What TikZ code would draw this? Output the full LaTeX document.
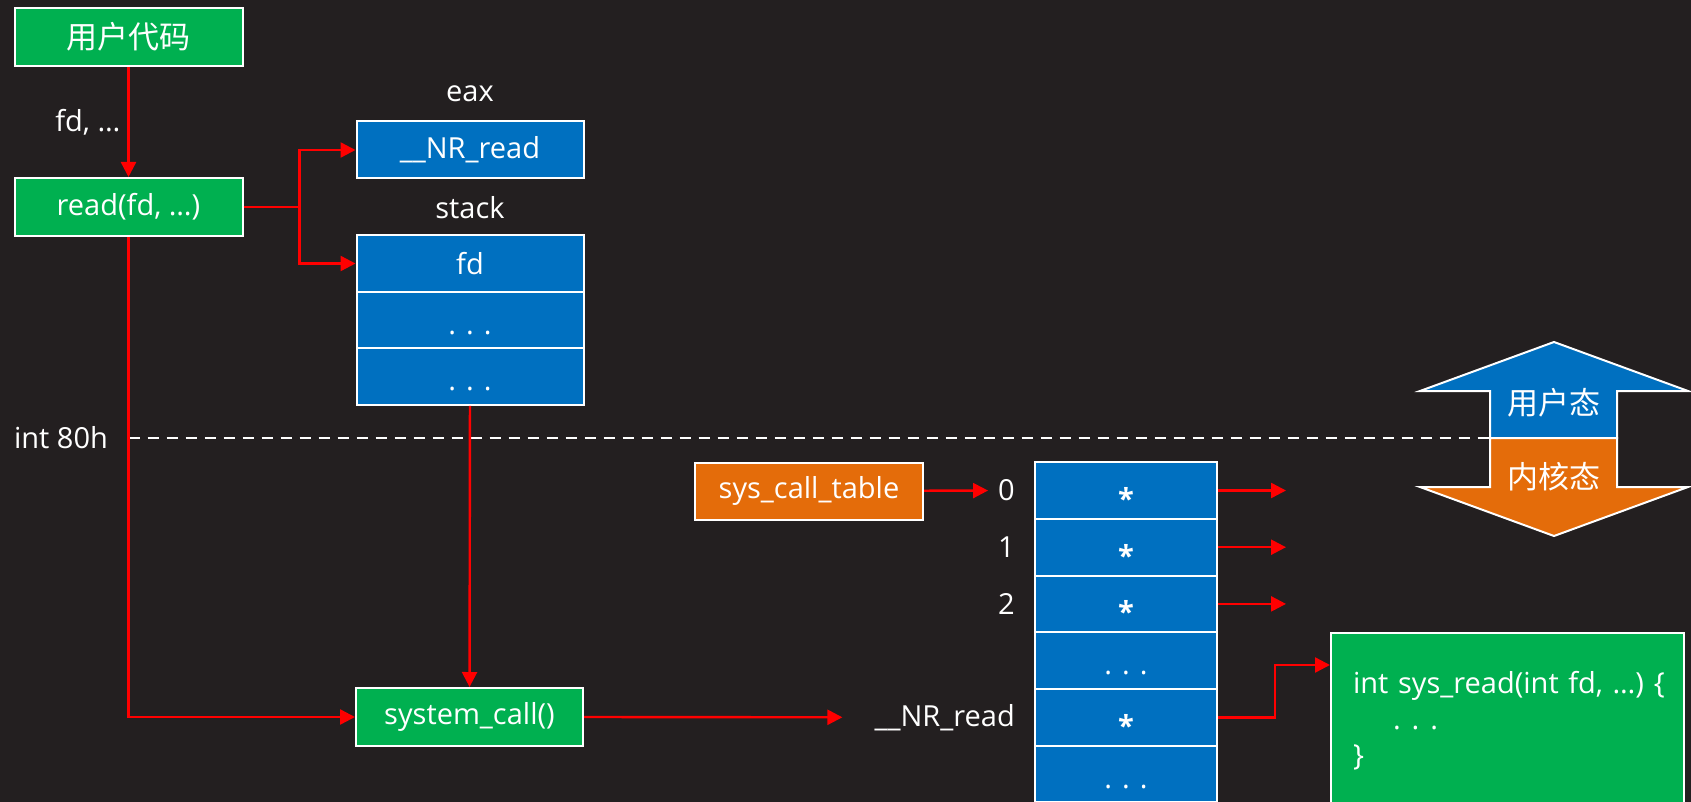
\documentclass[tikz,border=0pt]{standalone}
\usepackage{fontspec}
\setmainfont{Open Sans}
\newfontfamily\cjk{Noto Sans CJK SC}
\usetikzlibrary{positioning, arrows.meta}

\definecolor{bgdark}{HTML}{231F20}
\definecolor{boxgreen}{HTML}{00B050}
\definecolor{boxblue}{HTML}{0070C0}
\definecolor{boxorange}{HTML}{E46C0A}

\newcommand\tstar{\raisebox{-8pt}{\textbf{*}}}
\newcommand\tdots{\raisebox{-3pt}{. . .}}

\begin{document}
\begin{tikzpicture}[
  x=1pt, y=-1pt,
  >={Triangle[length=15pt,width=15pt]},
  every node/.style={text=white, font=\fontsize{29pt}{36pt}\selectfont},
  cjktext/.style={font=\cjk\fontsize{31pt}{36pt}\selectfont},
  cellbox/.style={draw=white, line width=2pt, inner sep=0pt, minimum width=227pt, minimum height=57pt},
  greenbox/.style={cellbox, fill=boxgreen},
  bluebox/.style={cellbox, fill=boxblue},
  orangebox/.style={cellbox, fill=boxorange},
  rowbox/.style={bluebox, minimum width=182pt, minimum height=56.7pt, text height=26pt, text depth=4pt},
  lbl/.style={inner sep=2pt},
  arr/.style={->, red, line width=2.4pt},
  dashline/.style={white, line width=2.5pt, dash pattern=on 11pt off 8pt}
]
\useasboundingbox (0,0) rectangle (1691,802);
\fill[bgdark] (0,0) rectangle (1691,802);

% user side
\node[greenbox, cjktext, minimum width=228pt, minimum height=58pt] (code) at (128.5,37) {用户代码};
\node[greenbox, minimum width=228pt, minimum height=58pt] (read) at (128.5,207) {read(fd, …)};
\node[lbl] (eaxlbl) at (470,94) {eax};
\node[bluebox] (eaxreg) at (470,150) {\_\_NR\_read};
\node[lbl] (stklbl) at (470,208) {stack};
\node[rowbox, minimum width=227pt] (stk1) at (470,263.5) {fd};
\node[rowbox, minimum width=227pt] (stk2) at (470,320) {\tdots};
\node[rowbox, minimum width=227pt] (stk3) at (470,376.5) {\tdots};

% mode boundary
\node[lbl] (int80) at (61,438) {int 80h};
\coordinate (shaftL) at (1490,438);
\draw[dashline] (read.south |- int80) -- (shaftL);

% kernel side
\node[greenbox, minimum height=58pt] (syscall) at (469.5,717) {system\_call()};
\node[orangebox, minimum width=228pt] (tbl) at (809,491) {sys\_call\_table};
\foreach \i/\txt in {0/\tstar, 1/\tstar, 2/\tstar, 3/\tdots, 4/\tstar, 5/\tdots}
  \node[rowbox] (t\i) at (1126,490.5+56.7*\i) {\txt};
\foreach \i in {0,1,2}
  \node[lbl, left=17pt of t\i] (idx\i) {\i};
\node[lbl, left=17pt of t4] (nrlbl) {\_\_NR\_read};
\node[greenbox, anchor=north west, minimum width=353pt, minimum height=176pt,
      text width=309pt, inner xsep=22pt, align=left] (sysread) at (1330,632)
  {\mbox{int sys\_read(int fd, …) \{}\\\hspace*{40pt}.\hspace{11pt}.\hspace{11pt}.\\\}};

% connectors
\draw[arr] (code) -- node[lbl, left=5pt] (fdlbl) {fd, …} (read);
\draw[arr] (read.east) -- ++(56,0) coordinate (fork) |- (eaxreg.west);
\draw[arr] (fork) |- (stk1.west);
\draw[arr] (read.south) |- (syscall.west);
\draw[arr] (stk3) -- (syscall);
\draw[arr] (syscall.east) -- ([xshift=-30pt]nrlbl.west);
\draw[arr, shorten >=8pt] (tbl) -- (idx0);
\foreach \i in {0,1,2} {
  \coordinate (out\i) at ([xshift=68pt]t\i.east);
  \draw[arr] (t\i.east) -- (out\i);
}
\draw[arr] (t4.east) -- ++(57,0) |- ([yshift=-33pt]sysread.north west);

% user / kernel double arrow
\draw[white, line width=2pt, fill=boxblue] (1554,342) -- (1688,391) -- (1617,391) -- (1617,438)
  -- (shaftL) -- (1490,391) -- (1420,391) -- cycle;
\draw[white, line width=2pt, fill=boxorange] (shaftL) -- (1617,438) -- (1617,487) -- (1688,487)
  -- (1554,536) -- (1420,487) -- (1490,487) -- cycle;
\node[cjktext] (ustate) at (1554,403) {用户态};
\node[cjktext] (kstate) at (1554,477) {内核态};

\end{tikzpicture}
\end{document}
